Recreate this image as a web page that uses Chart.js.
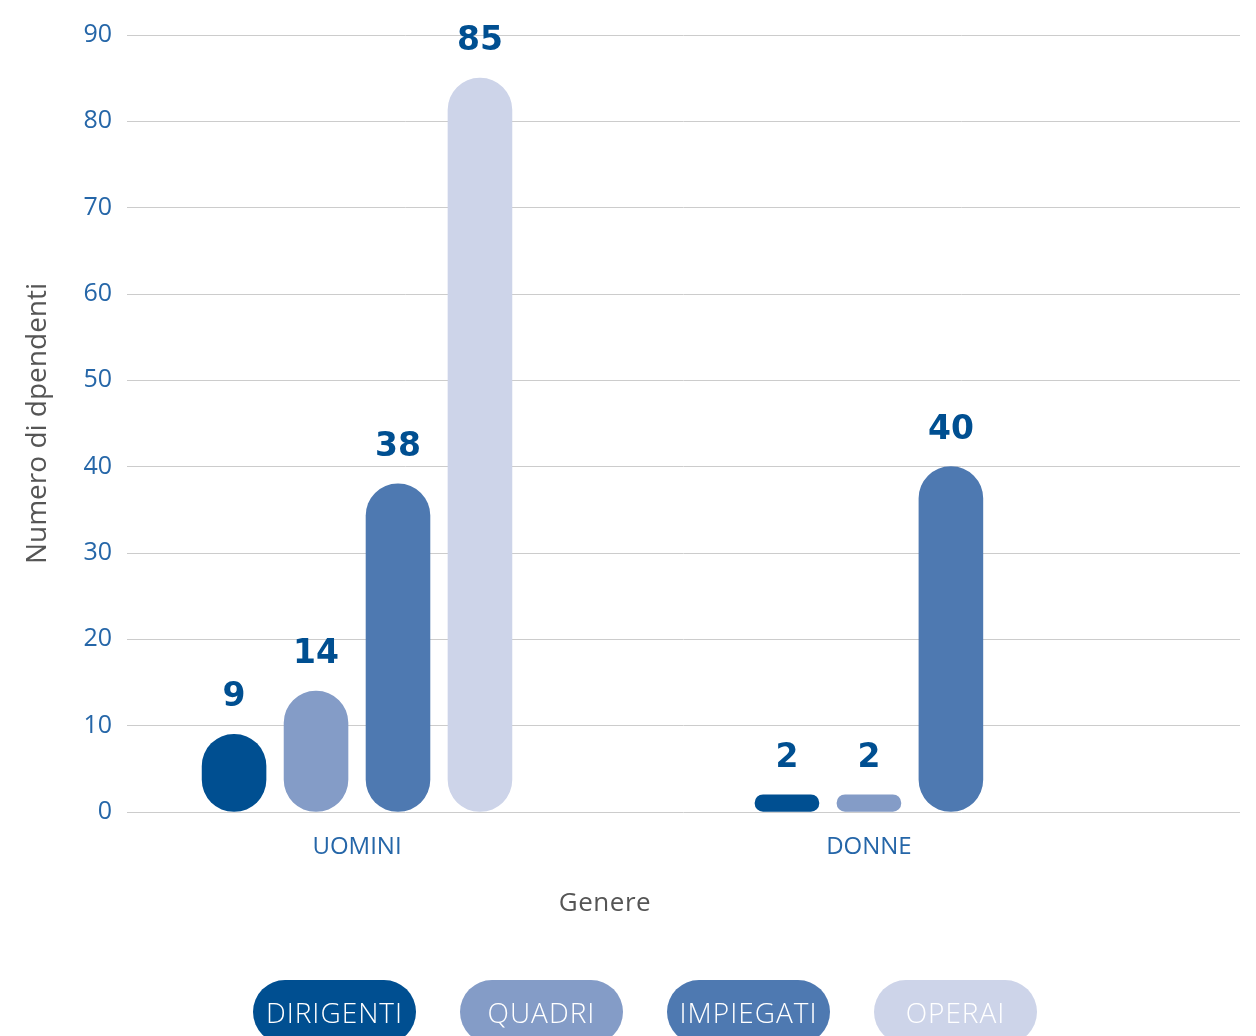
<!DOCTYPE html>
<html lang="it">
<head>
<meta charset="utf-8">
<title>Numero di dipendenti per genere</title>
<script src="https://cdn.jsdelivr.net/npm/chart.js@4/dist/chart.umd.min.js"></script>
<style>
  html, body { margin: 0; padding: 0; background: #fff; }
  #wrap { position: relative; width: 1256px; height: 1036px; overflow: hidden; }
  #wrap canvas { position: absolute; left: 0; top: 0; }
  #xTitle {
    position: absolute; left: 605px; top: 901px; transform: translate(-50%, -50%);
    font: 26px "Open Sans", sans-serif; color: #555; letter-spacing: 0.5px;
  }
  #legend {
    position: absolute; left: 253px; top: 980px; display: flex; gap: 44px;
  }
  #legend span {
    display: block; width: 163px; height: 64px; border-radius: 32px;
    text-align: center; color: #fff; font: 300 28px/64px "Open Sans", sans-serif;
    letter-spacing: 1px;
  }
</style>
</head>
<body>
<div id="wrap">
  <canvas id="barChart" width="1256" height="1036"></canvas>
  <div id="xTitle">Genere</div>
  <div id="legend"></div>
</div>
<script>
// categories and series
const categories = ['UOMINI', 'DONNE'];
const seriesNames = ['DIRIGENTI', 'QUADRI', 'IMPIEGATI', 'OPERAI'];
const dirigenti = [9, 2];
const quadri = [14, 2];
const impiegati = [38, 40];
const operai = [85, null];
const seriesColors = ['#004f91', '#849cc7', '#4e79b1', '#cdd4e9'];
const yMax = 90;
const yStep = 10;

const allSeries = [dirigenti, quadri, impiegati, operai];
const catPct = 0.593;
const barPct = 0.78;

function toPoints(values) {
  return values.map(function (v, i) { return { x: i, y: v }; });
}

// value labels above the bars
const valueLabels = {
  id: 'valueLabels',
  afterDatasetsDraw(chart) {
    const ctx = chart.ctx;
    ctx.save();
    ctx.font = 'bold 33px "DejaVu Sans", sans-serif';
    ctx.fillStyle = '#004f91';
    ctx.textAlign = 'center';
    ctx.textBaseline = 'alphabetic';
    chart.data.datasets.forEach(function (ds, i) {
      chart.getDatasetMeta(i).data.forEach(function (bar, j) {
        const v = ds.data[j].y;
        if (v === null) return;
        ctx.fillText(String(v), bar.x, bar.y - 28);
      });
    });
    ctx.restore();
  }
};

const ctx = document.getElementById('barChart');
const chart = new Chart(ctx, {
  type: 'bar',
  data: {
    datasets: allSeries.map(function (values, k) {
      return {
        label: seriesNames[k],
        data: toPoints(values),
        backgroundColor: seriesColors[k],
        borderWidth: 0,
        borderRadius: 32,
        borderSkipped: false,
        barThickness: 'flex',
        categoryPercentage: catPct,
        barPercentage: barPct,
      };
    }),
  },
  plugins: [valueLabels],
  options: {
    responsive: false,
    animation: false,
    layout: {
      padding: { top: 35, right: 16, bottom: 176, left: 18 }
    },
    plugins: {
      legend: { display: false },
      tooltip: { enabled: false },
    },
    scales: {
      x: {
        type: 'linear',
        min: -0.416,
        max: 1.597,
        offset: false,
        bounds: 'data',
        grid: { display: false },
        border: { display: false },
        afterFit: function (scale) { scale.height = 48; },
        afterBuildTicks: function (scale) {
          // put each category label under the middle of its visible bars
          const n = allSeries.length;
          scale.ticks = categories.map(function (c, i) {
            const slots = [];
            allSeries.forEach(function (s, k) { if (s[i] !== null) slots.push(k); });
            const mid = slots.reduce(function (a, b) { return a + b; }, 0) / slots.length;
            return { value: i + (mid - (n - 1) / 2) * catPct / n };
          });
        },
        ticks: {
          callback: function (v, i) { return categories[i]; },
          color: '#2566a8',
          font: { family: '"Open Sans", sans-serif', size: 24 },
          padding: 13,
          maxRotation: 0,
          autoSkip: false,
        },
      },
      y: {
        min: 0,
        max: yMax,
        grid: { color: '#cccccc', lineWidth: 1, drawTicks: false },
        border: { display: false },
        afterFit: function (scale) { scale.width = 109; },
        ticks: {
          stepSize: yStep,
          color: '#2566a8',
          font: { family: '"Open Sans", sans-serif', size: 25 },
          padding: 15,
        },
        title: {
          display: true,
          text: 'Numero di dpendenti',
          color: '#555',
          font: { family: '"Open Sans", sans-serif', size: 28 },
          padding: { top: 3, bottom: 4 },
        },
      },
    },
  },
});

// pill legend
const legendBox = document.getElementById('legend');
chart.data.datasets.forEach(function (ds) {
  const pill = document.createElement('span');
  pill.textContent = ds.label;
  pill.style.background = ds.backgroundColor;
  legendBox.appendChild(pill);
});
</script>
</body>
</html>
